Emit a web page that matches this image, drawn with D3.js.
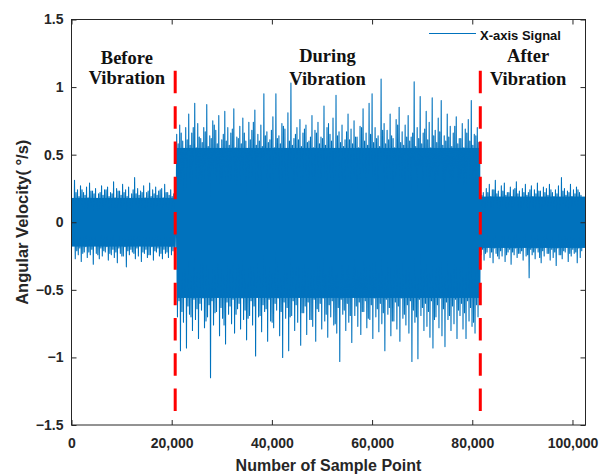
<!DOCTYPE html>
<html>
<head>
<meta charset="utf-8">
<script src="https://cdn.jsdelivr.net/npm/d3@7"></script>
<style>
body { margin: 0; background: #fff; }
svg { display: block; }
</style>
</head>
<body>
<script>
// each bin = 600 samples; per bin the trace swings up, down, up again, down again
// (big swing = sigHi/sigLo, smaller swing = sigHi2/sigLo2)
let binSize = 600;

let sigHi = [
    // before vibration (bins 0-34)
    0.18, 0.31, 0.24, 0.27, 0.22, 0.26, 0.29, 0.23, 0.25, 0.21,
    0.27, 0.24, 0.26, 0.22, 0.30, 0.25, 0.23, 0.28, 0.24, 0.26,
    0.21, 0.33, 0.25, 0.23, 0.27, 0.22, 0.29, 0.24, 0.26, 0.23,
    0.25, 0.28, 0.22, 0.24, 0.21,
    // during vibration (bins 35-135)
    0.65, 0.72, 0.60, 0.70, 0.80, 0.66, 0.88, 0.73, 0.62, 0.70,
    0.87, 0.64, 0.75, 0.68, 0.79, 0.61, 0.82, 0.70, 0.66, 0.84,
    0.63, 0.71, 0.77, 0.60, 0.74, 0.68, 0.83, 0.65, 0.72, 0.95,
    0.67, 0.61, 0.78, 0.95, 0.64, 0.73, 0.69, 0.81, 1.03, 0.62,
    0.70, 0.76, 0.66, 0.72, 0.60, 0.79, 0.68, 0.74, 0.63, 0.86,
    0.70, 0.65, 0.77, 0.94, 0.67, 0.72, 0.61, 0.80, 0.69, 0.75,
    0.63, 0.71, 0.84, 0.66, 0.88, 0.95, 0.70, 0.64, 1.06, 0.73,
    0.68, 0.80, 0.62, 0.76, 0.85, 0.67, 0.72, 0.79, 0.63, 1.04,
    0.70, 0.93, 0.66, 0.82, 0.74, 0.92, 0.68, 0.77, 0.90, 0.64,
    0.80, 0.71, 0.66, 0.78, 0.62, 0.73, 0.69, 0.76, 0.90, 0.65,
    0.70,
    // after vibration (bins 136-170)
    0.26, 0.22, 0.25, 0.28, 0.24, 0.31, 0.23, 0.27, 0.29, 0.22,
    0.26, 0.24, 0.30, 0.23, 0.25, 0.28, 0.22, 0.27, 0.24, 0.29,
    0.23, 0.26, 0.25, 0.28, 0.22, 0.24, 0.27, 0.33, 0.25, 0.23,
    0.28, 0.24, 0.26, 0.22, 0.17
];

let sigLo = [
    -0.17, -0.27, -0.24, -0.29, -0.22, -0.26, -0.24, -0.31, -0.23, -0.27,
    -0.25, -0.22, -0.28, -0.24, -0.26, -0.30, -0.23, -0.25, -0.33, -0.24,
    -0.22, -0.27, -0.25, -0.29, -0.23, -0.26, -0.24, -0.28, -0.22, -0.25,
    -0.27, -0.23, -0.26, -0.24, -0.22,
    -0.70, -0.95, -0.74, -0.93, -0.68, -0.80, -0.72, -0.86, -0.65, -0.78,
    -0.70, -1.15, -0.76, -0.66, -0.84, -0.71, -0.90, -0.68, -0.75, -0.82,
    -0.64, -0.79, -0.72, -0.87, -0.69, -0.76, -0.99, -0.70, -0.81, -0.66,
    -0.88, -0.73, -0.78, -0.65, -0.84, -1.00, -0.71, -0.95, -0.69, -0.80,
    -0.74, -0.91, -0.67, -0.83, -0.72, -0.77, -0.88, -0.66, -0.79, -0.73,
    -0.85, -0.70, -0.76, -0.82, -1.03, -0.68, -0.80, -0.74, -0.89, -0.69,
    -0.77, -0.83, -0.66, -0.78, -0.72, -0.86, -0.70, -0.81, -0.75, -0.95,
    -0.68, -0.84, -0.73, -0.79, -0.88, -0.71, -0.76, -0.82, -1.03, -0.74,
    -1.01, -0.69, -0.80, -0.77, -0.85, -0.93, -0.70, -0.78, -0.84, -0.92,
    -0.72, -0.80, -0.75, -0.86, -0.69, -0.79, -0.86, -0.73, -0.77, -0.82,
    -0.70,
    -0.24, -0.28, -0.22, -0.26, -0.30, -0.23, -0.27, -0.25, -0.29, -0.22,
    -0.31, -0.24, -0.26, -0.23, -0.28, -0.25, -0.41, -0.24, -0.27, -0.22,
    -0.30, -0.25, -0.23, -0.28, -0.26, -0.32, -0.24, -0.27, -0.22, -0.29,
    -0.25, -0.23, -0.30, -0.26, -0.18
];

let sigHi2 = [
    0.15, 0.22, 0.19, 0.24, 0.20, 0.18, 0.23, 0.21, 0.17, 0.22,
    0.20, 0.24, 0.19, 0.21, 0.18, 0.23, 0.20, 0.22, 0.19, 0.17,
    0.24, 0.21, 0.20, 0.22, 0.18, 0.23, 0.19, 0.21, 0.20, 0.24,
    0.18, 0.22, 0.20, 0.19, 0.20,
    0.58, 0.66, 0.54, 0.61, 0.57, 0.70, 0.55, 0.63, 0.59, 0.67,
    0.56, 0.62, 0.72, 0.58, 0.54, 0.65, 0.60, 0.57, 0.69, 0.55,
    0.62, 0.58, 0.66, 0.53, 0.61, 0.74, 0.57, 0.60, 0.56, 0.64,
    0.59, 0.68, 0.55, 0.62, 0.58, 0.71, 0.54, 0.60, 0.57, 0.65,
    0.61, 0.56, 0.69, 0.59, 0.63, 0.55, 0.66, 0.58, 0.62, 0.57,
    0.73, 0.60, 0.54, 0.64, 0.59, 0.56, 0.67, 0.61, 0.58, 0.63,
    0.55, 0.70, 0.60, 0.57, 0.65, 0.59, 0.62, 0.56, 0.68, 0.58,
    0.61, 0.64, 0.55, 0.72, 0.59, 0.57, 0.63, 0.60, 0.66, 0.56,
    0.62, 0.58, 0.69, 0.61, 0.55, 0.64, 0.59, 0.67, 0.57, 0.60,
    0.63, 0.56, 0.71, 0.58, 0.62, 0.55, 0.66, 0.60, 0.57, 0.64,
    0.59,
    0.20, 0.17, 0.22, 0.19, 0.24, 0.21, 0.18, 0.23, 0.20, 0.22,
    0.19, 0.25, 0.21, 0.18, 0.22, 0.20, 0.24, 0.19, 0.21, 0.23,
    0.18, 0.22, 0.20, 0.24, 0.19, 0.21, 0.17, 0.23, 0.20, 0.22,
    0.19, 0.21, 0.24, 0.20, 0.18
];

let sigLo2 = [
    -0.16, -0.21, -0.19, -0.23, -0.18, -0.22, -0.20, -0.17, -0.24, -0.19,
    -0.21, -0.18, -0.23, -0.20, -0.22, -0.19, -0.25, -0.18, -0.21, -0.20,
    -0.23, -0.19, -0.17, -0.22, -0.20, -0.24, -0.18, -0.21, -0.19, -0.23,
    -0.20, -0.22, -0.18, -0.21, -0.19,
    -0.58, -0.66, -0.55, -0.62, -0.70, -0.57, -0.64, -0.60, -0.56, -0.73,
    -0.61, -0.58, -0.67, -0.55, -0.63, -0.76, -0.59, -0.62, -0.57, -0.68,
    -0.60, -0.56, -0.65, -0.71, -0.58, -0.62, -0.55, -0.69, -0.61, -0.64,
    -0.57, -0.74, -0.60, -0.56, -0.66, -0.59, -0.63, -0.70, -0.58, -0.61,
    -0.55, -0.67, -0.62, -0.59, -0.72, -0.57, -0.64, -0.60, -0.56, -0.68,
    -0.61, -0.58, -0.75, -0.63, -0.57, -0.65, -0.60, -0.69, -0.55, -0.62,
    -0.59, -0.66, -0.58, -0.71, -0.61, -0.56, -0.64, -0.60, -0.67, -0.57,
    -0.63, -0.73, -0.59, -0.62, -0.56, -0.68, -0.61, -0.58, -0.65, -0.70,
    -0.57, -0.63, -0.60, -0.66, -0.58, -0.72, -0.61, -0.56, -0.64, -0.59,
    -0.69, -0.62, -0.57, -0.65, -0.60, -0.67, -0.58, -0.63, -0.74, -0.61,
    -0.59,
    -0.20, -0.23, -0.18, -0.22, -0.19, -0.25, -0.21, -0.18, -0.24, -0.20,
    -0.22, -0.19, -0.23, -0.21, -0.18, -0.24, -0.20, -0.22, -0.19, -0.26,
    -0.21, -0.18, -0.23, -0.20, -0.22, -0.19, -0.24, -0.21, -0.18, -0.23,
    -0.20, -0.22, -0.19, -0.21, -0.17
];

// solid-looking core of the trace in each phase (samples packed too tight to see gaps)
let phaseStart = [0, 21000, 81600];
let phaseEnd = [20700, 81600, 102600];
let coreHi = [0.18, 0.55, 0.19];
let coreLo = [-0.18, -0.56, -0.19];

let xTicks = [0, 20000, 40000, 60000, 80000, 100000];
let yTicks = [-1.5, -1, -0.5, 0, 0.5, 1, 1.5];
let sampleMax = 102600;
let phaseEdges = [20700, 81600]; // where the shaking starts / stops
let phaseNames = [['Before', 'Vibration'], ['During', 'Vibration'], ['After', 'Vibration']];
let phaseCenters = [11050, 51100, 91150];
let legendLabel = 'X-axis Signal';

//chart constants
let totalWidth = 601;
let totalHeight = 476;
let plot = { left: 71.5, right: 585.5, top: 19.5, bottom: 425 };
let axisColor = '#262626';
let lineColor = '#0072BD';
let sans = "'Liberation Sans', Arial, sans-serif";
let serif = "'Liberation Serif', 'Times New Roman', serif";

let xScale = d3.scaleLinear().domain([0, sampleMax]).range([plot.left, plot.right]);
let yScale = d3.scaleLinear().domain([-1.5, 1.5]).range([plot.bottom, plot.top]);

let svg = d3.select('body').append('svg')
    .attr('width', totalWidth)
    .attr('height', totalHeight);

svg.append('defs').append('clipPath').attr('id', 'plotClip')
    .append('rect')
    .attr('x', plot.left).attr('y', plot.top)
    .attr('width', plot.right - plot.left).attr('height', plot.bottom - plot.top);

let signal = svg.append('g').attr('clip-path', 'url(#plotClip)');

signal.selectAll('rect')
    .data(phaseStart)
    .enter()
    .append('rect')
    .attr('x', function(d) { return xScale(d); })
    .attr('width', function(d, i) { return xScale(phaseEnd[i]) - xScale(d); })
    .attr('y', function(d, i) { return yScale(coreHi[i]); })
    .attr('height', function(d, i) { return yScale(coreLo[i]) - yScale(coreHi[i]); })
    .attr('fill', lineColor);

//four vertices per bin: up, down, up, down
let points = [];
let q = binSize / 4;
for (let i = 0; i < sigHi.length; i++) {
    points.push({ s: i * binSize, v: sigHi[i] });
    points.push({ s: i * binSize + q, v: sigLo[i] });
    points.push({ s: i * binSize + 2 * q, v: sigHi2[i] });
    points.push({ s: i * binSize + 3 * q, v: sigLo2[i] });
}

let line = d3.line()
    .x(function(d) { return xScale(d.s); })
    .y(function(d) { return yScale(d.v); });

signal.append('path')
    .datum(points)
    .attr('d', line)
    .attr('fill', 'none')
    .attr('stroke', lineColor)
    .attr('stroke-width', 1.1)
    .attr('stroke-linejoin', 'round');

//red dashed phase boundaries
svg.append('g').selectAll('line')
    .data(phaseEdges)
    .enter()
    .append('line')
    .attr('x1', function(d) { return xScale(d); })
    .attr('x2', function(d) { return xScale(d); })
    .attr('y1', yScale(1.12))
    .attr('y2', yScale(-1.4))
    .attr('stroke', '#ff0000')
    .attr('stroke-width', 3)
    .attr('stroke-dasharray', '22.5,12.8');

//axes, ticks pointing inward on all four sides
let fmt = d3.format(',');
let xAxis = d3.axisBottom(xScale).tickValues(xTicks).tickFormat(fmt).tickSize(-5).tickPadding(13);
let yAxis = d3.axisLeft(yScale).tickValues(yTicks).tickFormat(d3.format('')).tickSize(-5).tickPadding(8);

function styleAxis(g) {
    g.select('.domain').remove();
    g.selectAll('.tick line').attr('stroke', axisColor);
    g.selectAll('.tick text')
        .attr('fill', axisColor)
        .style('font-family', sans)
        .style('font-size', '14px')
        .style('font-weight', 'bold');
}

svg.append('g').attr('transform', `translate(0,${plot.bottom})`).call(xAxis).call(styleAxis);
svg.append('g').attr('transform', `translate(${plot.left},0)`).call(yAxis).call(styleAxis);
svg.append('g').attr('transform', `translate(0,${plot.top})`)
    .call(d3.axisTop(xScale).tickValues(xTicks).tickFormat('').tickSize(-5)).call(styleAxis);
svg.append('g').attr('transform', `translate(${plot.right},0)`)
    .call(d3.axisRight(yScale).tickValues(yTicks).tickFormat('').tickSize(-5)).call(styleAxis);

svg.append('rect')
    .attr('x', plot.left).attr('y', plot.top)
    .attr('width', plot.right - plot.left).attr('height', plot.bottom - plot.top)
    .attr('fill', 'none')
    .attr('stroke', axisColor)
    .attr('stroke-width', 1);

//axis titles
svg.append('text')
    .attr('x', (plot.left + plot.right) / 2)
    .attr('y', 471)
    .attr('text-anchor', 'middle')
    .attr('fill', axisColor)
    .style('font-family', sans)
    .style('font-size', '16px')
    .style('font-weight', 'bold')
    .text('Number of Sample Point');

svg.append('text')
    .attr('transform', `translate(28,${(plot.top + plot.bottom) / 2}) rotate(-90)`)
    .attr('text-anchor', 'middle')
    .attr('fill', axisColor)
    .style('font-family', sans)
    .style('font-size', '16.5px')
    .style('font-weight', 'bold')
    .text('Angular Velocity( °/s)');

//phase annotations
let baselines = [[64, 84], [62, 85], [62, 85]];
for (let i = 0; i < phaseNames.length; i++) {
    for (let j = 0; j < 2; j++) {
        svg.append('text')
            .attr('x', xScale(phaseCenters[i]))
            .attr('y', baselines[i][j])
            .attr('text-anchor', 'middle')
            .attr('fill', '#111')
            .style('font-family', serif)
            .style('font-size', '18.5px')
            .style('font-weight', 'bold')
            .text(phaseNames[i][j]);
    }
}

//legend (no box)
svg.append('line')
    .attr('x1', 429).attr('x2', 476)
    .attr('y1', 33.5).attr('y2', 33.5)
    .attr('stroke', lineColor)
    .attr('stroke-width', 1);
svg.append('text')
    .attr('x', 480)
    .attr('y', 39.5)
    .attr('fill', '#111')
    .style('font-family', sans)
    .style('font-size', '13px')
    .style('font-weight', 'bold')
    .text(legendLabel);
</script>
</body>
</html>
